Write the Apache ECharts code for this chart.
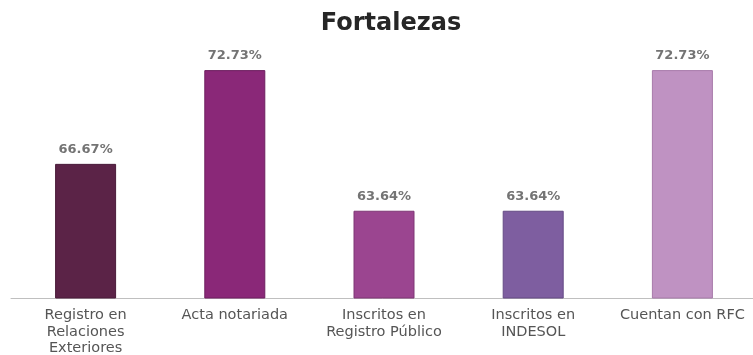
<!DOCTYPE html>
<html><head><meta charset="utf-8">
<script src="https://cdn.jsdelivr.net/npm/echarts@6/dist/echarts.min.js"></script>
<style>html,body{margin:0;padding:0;background:#fff}#c{width:753px;height:355px}</style>
</head><body><div id="c"></div>
<script>
const categories = ['Registro en\nRelaciones\nExteriores', 'Acta notariada', 'Inscritos en\nRegistro Público', 'Inscritos en\nINDESOL', 'Cuentan con RFC'];
const values = [66.67, 72.73, 63.64, 63.64, 72.73];
const barColors = ['#5b2347', '#8a2878', '#9b4590', '#7e5ea0', '#bf92c2'];
const borderColors = ['#4a1c3a', '#6e1f60', '#7f3775', '#654b84', '#a87aab'];

const chart = echarts.init(document.getElementById('c'));
chart.setOption({
  animation: false,
  title: {
    text: 'Fortalezas', left: 386, top: 7, textAlign: 'center',
    textStyle: { fontFamily: 'DejaVu Sans', fontSize: 24, fontWeight: 'bold', color: '#262626' }
  },
  grid: { left: 11, width: 746, top: 35, bottom: 57, containLabel: false, outerBoundsMode: 'none' },
  xAxis: {
    type: 'category', data: categories,
    axisLine: { lineStyle: { color: '#bfbfbf', width: 1 } },
    axisTick: { show: false },
    axisLabel: { interval: 0, fontFamily: 'DejaVu Sans', fontSize: 14.5, color: '#555555', lineHeight: 16.5, margin: 9 }
  },
  yAxis: { type: 'value', min: 58, max: 75, show: false, splitLine: { show: false } },
  series: [{
    type: 'bar', barWidth: 61,
    data: values.map((v, i) => ({ value: v, itemStyle: { color: barColors[i], borderColor: borderColors[i], borderWidth: 1 } })),
    label: {
      show: true, position: 'top', distance: 8,
      formatter: p => p.value.toFixed(2) + '%',
      fontFamily: 'DejaVu Sans', fontSize: 13, fontWeight: 'bold', color: '#747474'
    }
  }]
});
</script></body></html>
